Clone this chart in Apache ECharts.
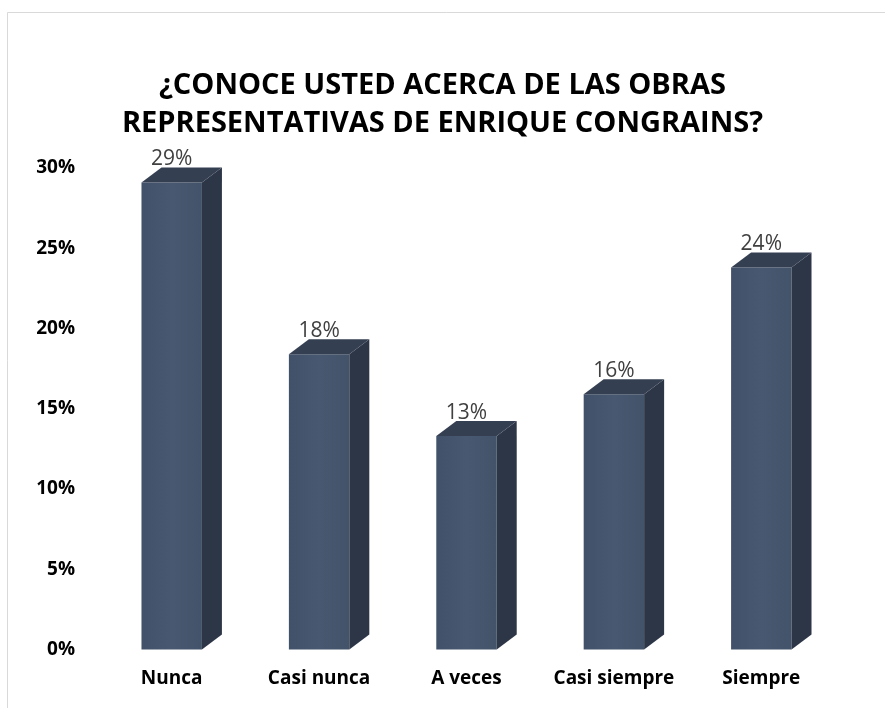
<!DOCTYPE html>
<html>
<head>
<meta charset="utf-8">
<style>
  html, body { margin: 0; padding: 0; background: #fff; }
  #chart { width: 885px; height: 708px; }
</style>
<script src="https://cdn.jsdelivr.net/npm/echarts@6/dist/echarts.min.js"></script>
</head>
<body>
<div id="chart"></div>
<script>
  // datos
  var categorias = ['Nunca', 'Casi nunca', 'A veces', 'Casi siempre', 'Siempre']
  var porcentajes = [29.1, 18.4, 13.3, 15.9, 23.8]
  var ticksY = [0, 5, 10, 15, 20, 25, 30]

  var colorLado = '#2c3647'
  var colorTapa = '#353f52'
  var fondoX = 20
  var fondoY = 15

  function renderBar(params, api) {
    var v = api.value(1)
    var top = api.coord([api.value(0), v])
    var base = api.coord([api.value(0), 0])
    var w = api.size([1, 0])[0] * 0.41
    var x0 = top[0] - w / 2
    var x1 = top[0] + w / 2
    return {
      type: 'group',
      children: [{
          type: 'rect',
          shape: { x: x0, y: top[1], width: w, height: base[1] - top[1] },
          style: {
            fill: new echarts.graphic.LinearGradient(0, 0, 1, 0, [
              { offset: 0, color: '#42516a' },
              { offset: 0.5, color: '#485870' },
              { offset: 1, color: '#43536a' }
            ])
          }
        },
        {
          type: 'polygon',
          shape: { points: [[x1, top[1]], [x1 + fondoX, top[1] - fondoY], [x1 + fondoX, base[1] - fondoY], [x1, base[1]]] },
          style: { fill: colorLado }
        },
        {
          type: 'polygon',
          shape: { points: [[x0, top[1]], [x0 + fondoX, top[1] - fondoY], [x1 + fondoX, top[1] - fondoY], [x1, top[1]]] },
          style: { fill: colorTapa }
        },
        {
          type: 'text',
          style: {
            x: top[0],
            y: top[1] - fondoY + 2,
            text: Math.round(v) + '%',
            align: 'center',
            verticalAlign: 'bottom',
            fill: '#404040',
            font: '21px "Open Sans", sans-serif'
          }
        }
      ]
    }
  }

  var dom = echarts.init(document.getElementById('chart'))
  var option = {
    backgroundColor: '#fff',
    animation: false,
    graphic: [{
      type: 'rect',
      shape: { x: 7.5, y: 12.5, width: 1000, height: 1000 },
      style: { fill: 'none', stroke: '#d9d9d9', lineWidth: 1 },
      silent: true
    }],
    title: {
      text: '¿CONOCE USTED ACERCA DE LAS OBRAS\nREPRESENTATIVAS DE ENRIQUE CONGRAINS?',
      left: 'center',
      top: 62,
      textStyle: {
        color: '#000',
        fontFamily: 'Open Sans',
        fontWeight: 'bold',
        fontSize: 29,
        lineHeight: 38
      }
    },
    grid: {
      left: 98,
      right: 50,
      top: 168,
      bottom: 58.5
    },
    xAxis: {
      type: 'category',
      data: categorias,
      axisLine: { show: false },
      axisTick: { show: false },
      axisLabel: {
        interval: 0,
        margin: 20,
        color: '#000',
        fontFamily: 'Open Sans',
        fontWeight: 'bold',
        fontSize: 19
      }
    },
    yAxis: {
      type: 'value',
      min: ticksY[0],
      max: ticksY[ticksY.length - 1],
      interval: 5,
      axisLine: { show: false },
      axisTick: { show: false },
      splitLine: { show: false },
      axisLabel: {
        formatter: '{value}%',
        margin: 23,
        color: '#000',
        fontFamily: 'Open Sans',
        fontWeight: 'bold',
        fontSize: 19
      }
    },
    series: [{
      type: 'custom',
      renderItem: renderBar,
      data: porcentajes.map(function (v, i) { return [i, v] })
    }]
  }
  dom.setOption(option)
</script>
</body>
</html>
